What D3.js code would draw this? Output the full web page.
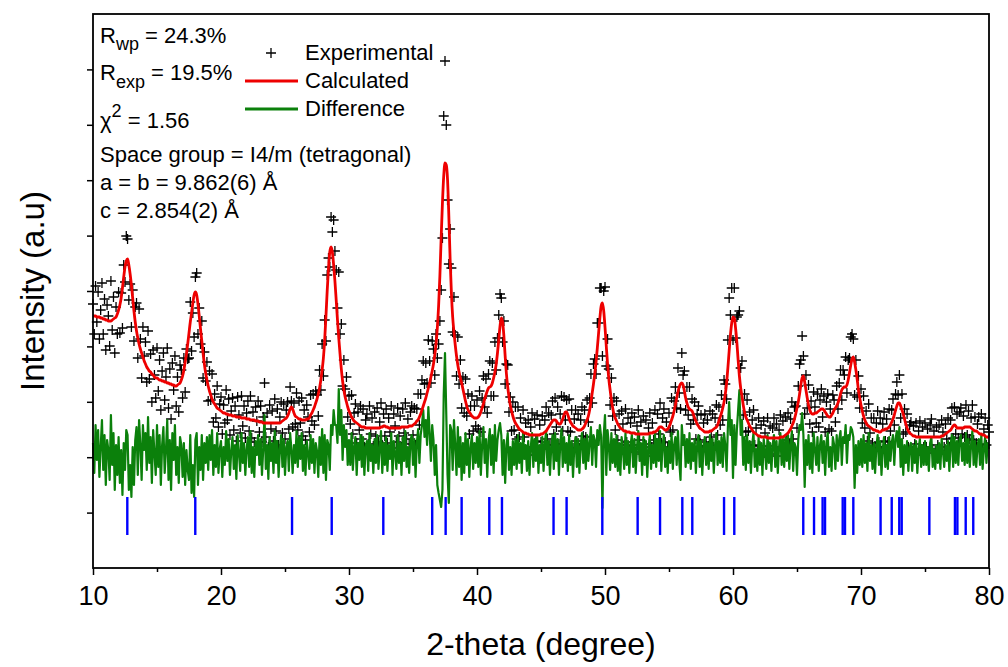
<!DOCTYPE html>
<html>
<head>
<meta charset="utf-8">
<script src="https://cdn.jsdelivr.net/npm/d3@7"></script>
<style>
  body { margin: 0; background: #fff; }
  text { font-family: Arial, "Liberation Sans", sans-serif; fill: #000; }
</style>
</head>
<body>
<script>
// 2-theta grid: 10.0 .. 80.0, step 0.1 (one row per degree)
const angleStart = 10
const angleStep = 0.1

const calculated = [
  252, 252, 252, 251, 251, 251, 250, 250, 249, 249,
  248, 248, 247, 247, 247, 248, 249, 250, 251, 254,
  258, 263, 270, 280, 291, 301, 307, 309, 303, 294,
  283, 270, 257, 246, 237, 230, 224, 219, 215, 211,
  207, 204, 201, 199, 197, 196, 194, 193, 191, 190,
  190, 189, 188, 188, 187, 187, 186, 186, 185, 185,
  184, 184, 183, 183, 182, 182, 183, 184, 185, 188,
  192, 198, 206, 214, 224, 235, 246, 255, 265, 273,
  276, 273, 264, 252, 239, 227, 215, 204, 195, 188,
  182, 177, 173, 169, 166, 164, 162, 160, 159, 158,
  157, 156, 155, 155, 154, 154, 153, 153, 153, 152,
  152, 152, 151, 151, 151, 151, 150, 150, 150, 150,
  149, 149, 149, 148, 148, 148, 148, 147, 147, 147,
  146, 146, 146, 145, 145, 145, 145, 145, 145, 145,
  145, 145, 145, 145, 145, 145, 145, 146, 147, 148,
  149, 150, 152, 155, 159, 161, 159, 155, 152, 151,
  150, 149, 149, 148, 148, 148, 148, 149, 149, 150,
  153, 155, 158, 161, 165, 169, 174, 180, 188, 198,
  210, 228, 252, 278, 300, 316, 321, 316, 303, 287,
  268, 248, 230, 214, 199, 187, 178, 171, 166, 161,
  157, 154, 151, 149, 147, 146, 145, 144, 143, 142,
  141, 141, 141, 140, 140, 140, 140, 140, 140, 140,
  140, 140, 140, 140, 140, 141, 141, 142, 142, 141,
  141, 140, 140, 140, 140, 140, 140, 140, 140, 140,
  140, 141, 141, 141, 141, 141, 141, 142, 142, 142,
  143, 144, 145, 147, 148, 151, 154, 158, 162, 166,
  170, 175, 180, 185, 191, 197, 204, 213, 224, 240,
  262, 292, 330, 365, 392, 405, 403, 388, 352, 309,
  275, 251, 236, 223, 212, 203, 196, 190, 185, 179,
  173, 167, 162, 158, 156, 154, 152, 151, 150, 150,
  150, 151, 153, 156, 160, 164, 169, 173, 177, 180,
  181, 182, 185, 190, 196, 204, 215, 228, 242, 250,
  246, 232, 212, 194, 181, 171, 163, 157, 152, 148,
  145, 143, 141, 139, 138, 137, 136, 135, 135, 134,
  134, 133, 133, 133, 133, 133, 133, 133, 133, 133,
  134, 134, 135, 136, 137, 139, 141, 143, 145, 147,
  148, 148, 147, 145, 144, 144, 146, 149, 153, 156,
  156, 153, 149, 146, 144, 142, 141, 140, 139, 138,
  138, 138, 139, 140, 142, 145, 148, 152, 158, 166,
  175, 184, 194, 206, 220, 235, 250, 262, 265, 257,
  241, 222, 204, 189, 178, 168, 160, 154, 150, 147,
  144, 142, 140, 139, 138, 137, 137, 136, 136, 136,
  135, 135, 135, 135, 134, 134, 134, 134, 134, 134,
  134, 134, 134, 134, 134, 135, 135, 135, 136, 136,
  137, 138, 140, 141, 141, 140, 139, 138, 138, 139,
  141, 144, 148, 152, 157, 163, 170, 176, 181, 184,
  185, 183, 177, 170, 165, 161, 159, 158, 157, 154,
  150, 147, 144, 142, 140, 139, 138, 137, 136, 136,
  136, 136, 137, 137, 138, 139, 140, 141, 143, 147,
  151, 155, 160, 166, 174, 185, 200, 217, 233, 245,
  251, 250, 240, 226, 208, 192, 180, 172, 163, 156,
  151, 148, 145, 142, 140, 138, 136, 135, 134, 133,
  132, 132, 131, 131, 131, 131, 131, 130, 130, 130,
  130, 130, 130, 130, 130, 130, 130, 131, 131, 131,
  132, 133, 134, 135, 137, 139, 142, 145, 149, 154,
  160, 166, 174, 183, 190, 192, 186, 178, 170, 163,
  158, 155, 154, 154, 155, 155, 156, 157, 158, 159,
  159, 158, 156, 154, 152, 151, 151, 153, 155, 158,
  160, 162, 165, 169, 174, 178, 180, 181, 181, 183,
  188, 195, 203, 209, 211, 206, 198, 189, 178, 170,
  163, 157, 152, 148, 145, 143, 142, 141, 140, 139,
  138, 138, 137, 137, 136, 136, 137, 138, 138, 139,
  139, 140, 141, 143, 146, 149, 153, 158, 162, 165,
  165, 162, 158, 154, 149, 144, 140, 137, 135, 134,
  133, 132, 132, 131, 131, 131, 131, 131, 131, 131,
  131, 131, 131, 131, 131, 131, 131, 131, 131, 131,
  131, 131, 131, 132, 132, 133, 134, 135, 136, 137,
  138, 140, 142, 143, 142, 140, 140, 140, 140, 140,
  140, 141, 141, 141, 141, 141, 140, 139, 138, 137,
  137, 136, 135, 134, 134, 133, 133, 132, 131, 131,
  130
]

const experimental = [
  264, 234, 282, 246, 276, 229, 258, 285, 234, 269,
  218, 263, 252, 222, 287, 238, 271, 215, 261, 234,
  276, 235, 275, 240, 303, 286, 332, 329, 268, 284,
  241, 278, 227, 261, 265, 210, 259, 229, 190, 241,
  212, 226, 186, 237, 189, 214, 166, 218, 193, 170,
  220, 177, 208, 158, 197, 215, 168, 191, 220, 160,
  199, 149, 205, 178, 212, 162, 191, 156, 203, 198,
  170, 210, 176, 219, 209, 210, 266, 217, 255, 231,
  291, 295, 234, 260, 224, 247, 190, 216, 187, 206,
  167, 197, 168, 194, 146, 174, 150, 182, 141, 164,
  171, 134, 163, 145, 178, 148, 169, 133, 157, 170,
  138, 162, 127, 171, 153, 135, 172, 142, 162, 130,
  155, 167, 137, 172, 130, 156, 126, 161, 147, 167,
  136, 162, 126, 151, 185, 131, 155, 121, 163, 139,
  157, 127, 169, 137, 159, 123, 151, 166, 135, 164,
  129, 158, 166, 139, 181, 167, 141, 165, 144, 175,
  138, 167, 145, 170, 132, 158, 128, 163, 151, 136,
  173, 147, 174, 143, 177, 173, 152, 198, 178, 224,
  192, 248, 227, 293, 310, 301, 351, 336, 348, 317,
  298, 260, 296, 234, 244, 182, 208, 179, 191, 151,
  172, 144, 173, 134, 155, 164, 125, 156, 138, 162,
  129, 159, 121, 148, 154, 124, 162, 134, 150, 122,
  156, 132, 160, 126, 146, 165, 123, 154, 132, 159,
  125, 150, 136, 162, 120, 154, 142, 126, 160, 132,
  152, 121, 159, 135, 165, 129, 149, 124, 156, 162,
  133, 160, 123, 159, 174, 143, 174, 188, 207, 184,
  205, 185, 228, 207, 185, 227, 219, 193, 234, 210,
  224, 247, 278, 330, 452, 507, 443, 368, 304, 339,
  300, 236, 271, 233, 192, 231, 184, 208, 160, 191,
  155, 189, 152, 174, 134, 162, 172, 137, 162, 142,
  168, 139, 177, 136, 170, 192, 161, 189, 155, 194,
  207, 172, 205, 172, 226, 198, 230, 253, 274, 270,
  226, 247, 184, 204, 203, 156, 171, 137, 166, 138,
  161, 129, 161, 131, 150, 119, 158, 131, 145, 118,
  148, 113, 141, 155, 121, 149, 127, 153, 115, 143,
  126, 152, 119, 148, 161, 129, 155, 123, 153, 167,
  134, 170, 141, 161, 124, 154, 172, 137, 171, 148,
  168, 137, 169, 136, 158, 120, 149, 158, 127, 154,
  120, 148, 161, 132, 158, 131, 168, 146, 170, 194,
  165, 204, 209, 194, 245, 245, 280, 280, 212, 277,
  281, 202, 229, 199, 163, 190, 152, 170, 138, 167,
  128, 154, 120, 157, 144, 123, 159, 126, 150, 118,
  145, 155, 123, 151, 116, 142, 158, 128, 146, 114,
  152, 124, 148, 112, 140, 155, 121, 145, 128, 158,
  125, 154, 134, 165, 125, 150, 159, 126, 146, 121,
  155, 136, 170, 138, 167, 181, 160, 200, 175, 159,
  215, 193, 197, 158, 181, 153, 181, 144, 169, 148,
  166, 129, 154, 162, 128, 153, 118, 145, 154, 126,
  148, 122, 157, 131, 154, 121, 150, 163, 133, 161,
  143, 173, 148, 188, 184, 169, 228, 270, 253, 280,
  228, 280, 230, 251, 253, 257, 200, 207, 153, 174,
  136, 168, 137, 156, 122, 148, 158, 123, 140, 117,
  150, 122, 143, 111, 147, 135, 117, 150, 122, 142,
  114, 140, 150, 118, 144, 112, 138, 153, 121, 147,
  120, 151, 128, 155, 123, 149, 166, 129, 161, 162,
  140, 182, 204, 208, 232, 212, 154, 193, 160, 183,
  144, 167, 136, 176, 161, 145, 174, 141, 168, 179,
  151, 172, 136, 166, 174, 139, 159, 137, 173, 168,
  146, 182, 159, 185, 198, 168, 198, 193, 211, 175,
  208, 210, 231, 234, 229, 173, 208, 171, 192, 160,
  179, 145, 172, 140, 157, 127, 164, 135, 150, 125,
  150, 120, 145, 157, 126, 150, 117, 144, 156, 127,
  149, 126, 159, 137, 158, 169, 143, 174, 186, 173,
  193, 150, 174, 134, 159, 136, 154, 121, 143, 146,
  117, 142, 124, 145, 113, 137, 147, 119, 141, 121,
  145, 121, 139, 115, 143, 149, 119, 137, 117, 141,
  123, 143, 117, 148, 136, 121, 144, 129, 150, 121,
  148, 160, 130, 161, 134, 154, 130, 156, 160, 134,
  152, 131, 163, 133, 157, 129, 150, 163, 128, 151,
  125, 144, 151, 124, 154, 119, 139, 150, 123, 143,
  136
]

// difference curve is drawn shifted up by this many counts
const diffOffset = 113

// Bragg reflection positions (2-theta)
const braggPositions = [
  12.68, 17.99, 25.55, 28.65, 32.68, 36.5, 37.55, 38.8, 40.96, 41.95,
  45.98, 47.0, 49.79, 52.55, 54.3, 56.04, 56.82, 59.3, 60.1, 65.49,
  66.33, 67.0, 67.19, 68.57, 68.75, 69.4, 71.53, 72.4, 72.99, 73.18,
  75.34, 77.34, 77.53, 78.18, 78.77
]

const xMajorTicks = [10, 20, 30, 40, 50, 60, 70, 80]
const xMinorTicks = [15, 25, 35, 45, 55, 65, 75]
const yTicks = [55.4, 110.8, 166.2, 221.6, 277, 332.4, 387.8, 443.2, 498.6]

const legendLabels = ['Experimental', 'Calculated', 'Difference']

const width = 1008
const height = 667
const margin = { top: 14, right: 19, bottom: 99, left: 93 }
const innerW = width - margin.left - margin.right
const innerH = height - margin.top - margin.bottom

const points = experimental.map((v, i) => ({
  angle: angleStart + i * angleStep,
  obs: v,
  calc: calculated[i],
  diff: v - calculated[i] + diffOffset
}))

const x = d3.scaleLinear().domain([10, 80]).range([0, innerW])
const y = d3.scaleLinear().domain([0, 554]).range([innerH, 0])

const svg = d3.select('body').append('svg')
  .attr('width', width)
  .attr('height', height)

const g = svg.append('g')
  .attr('transform', `translate(${margin.left},${margin.top})`)

// experimental points as small crosses
const crossSize = 5
const crossPath = (cx, cy) => `M${cx - crossSize},${cy}h${crossSize * 2}M${cx},${cy - crossSize}v${crossSize * 2}`

g.append('path')
  .attr('fill', 'none')
  .attr('stroke', '#000')
  .attr('stroke-width', 1.3)
  .attr('d', points.map(d => crossPath(x(d.angle), y(d.obs))).join(''))

// difference
g.append('path')
  .datum(points)
  .attr('fill', 'none')
  .attr('stroke', '#0b800b')
  .attr('stroke-width', 2.2)
  .attr('stroke-linejoin', 'round')
  .attr('d', d3.line().x(d => x(d.angle)).y(d => y(d.diff)))

// calculated profile
g.append('path')
  .datum(points)
  .attr('fill', 'none')
  .attr('stroke', '#ee0000')
  .attr('stroke-width', 2.8)
  .attr('stroke-linejoin', 'round')
  .attr('d', d3.line().curve(d3.curveMonotoneX).x(d => x(d.angle)).y(d => y(d.calc)))

// Bragg markers
g.append('g')
  .attr('stroke', '#0000ff')
  .attr('stroke-width', 2.4)
  .selectAll('line')
  .data(braggPositions)
  .join('line')
  .attr('x1', d => x(d))
  .attr('x2', d => x(d))
  .attr('y1', y(71))
  .attr('y2', y(33))

// axes
const xAxis = g.append('g')
  .attr('transform', `translate(0,${innerH})`)
  .call(d3.axisBottom(x).tickValues(xMajorTicks).tickSize(7).tickPadding(11).tickFormat(d3.format('d')))
xAxis.select('.domain').remove()
xAxis.selectAll('line').attr('stroke-width', 1.5)
xAxis.selectAll('text').attr('font-size', 27).attr('font-family', 'Arial, "Liberation Sans", sans-serif')

const xMinor = g.append('g')
  .attr('transform', `translate(0,${innerH})`)
  .call(d3.axisBottom(x).tickValues(xMinorTicks).tickSize(4).tickFormat(''))
xMinor.select('.domain').remove()
xMinor.selectAll('line').attr('stroke-width', 1.5)

const yAxis = g.append('g')
  .call(d3.axisLeft(y).tickValues(yTicks).tickSize(6).tickFormat(''))
yAxis.select('.domain').remove()
yAxis.selectAll('line').attr('stroke-width', 1.5)

// frame
g.append('rect')
  .attr('width', innerW)
  .attr('height', innerH)
  .attr('fill', 'none')
  .attr('stroke', '#000')
  .attr('stroke-width', 1.8)

// axis titles
svg.append('text')
  .attr('x', margin.left + innerW / 2)
  .attr('y', 655)
  .attr('text-anchor', 'middle')
  .attr('font-size', 32)
  .text('2-theta (degree)')

svg.append('text')
  .attr('transform', `translate(44,${margin.top + innerH / 2}) rotate(-90)`)
  .attr('text-anchor', 'middle')
  .attr('font-size', 33)
  .text('Intensity (a.u)')

// refinement info
const info = svg.append('g').attr('font-size', 22)

const rwp = info.append('text').attr('x', 100).attr('y', 43)
rwp.append('tspan').text('R')
rwp.append('tspan').attr('font-size', 18).attr('dy', 7).text('wp')
rwp.append('tspan').attr('dy', -7).text(' = 24.3%')

const rexp = info.append('text').attr('x', 100).attr('y', 80)
rexp.append('tspan').text('R')
rexp.append('tspan').attr('font-size', 18).attr('dy', 8).text('exp')
rexp.append('tspan').attr('dy', -8).text(' = 19.5%')

const chi = info.append('text').attr('x', 100).attr('y', 128)
chi.append('tspan').text('χ')
chi.append('tspan').attr('font-size', 18).attr('dy', -11).text('2')
chi.append('tspan').attr('dy', 11).text(' = 1.56')

info.append('text').attr('x', 100).attr('y', 162).text('Space group = I4/m (tetragonal)')
info.append('text').attr('x', 100).attr('y', 190).text('a = b = 9.862(6) Å')
info.append('text').attr('x', 100).attr('y', 218).text('c = 2.854(2) Å')

// legend
const legend = svg.append('g').attr('font-size', 22)
legend.append('path')
  .attr('d', crossPath(271, 53))
  .attr('stroke', '#000')
  .attr('stroke-width', 1.3)
legend.append('line').attr('x1', 245).attr('x2', 298).attr('y1', 81).attr('y2', 81)
  .attr('stroke', '#ee0000').attr('stroke-width', 2.8)
legend.append('line').attr('x1', 245).attr('x2', 298).attr('y1', 109).attr('y2', 109)
  .attr('stroke', '#0b800b').attr('stroke-width', 2.8)
legend.selectAll('text')
  .data(legendLabels)
  .join('text')
  .attr('x', 305)
  .attr('y', (d, i) => 60 + i * 28)
  .text(d => d)
</script>
</body>
</html>
